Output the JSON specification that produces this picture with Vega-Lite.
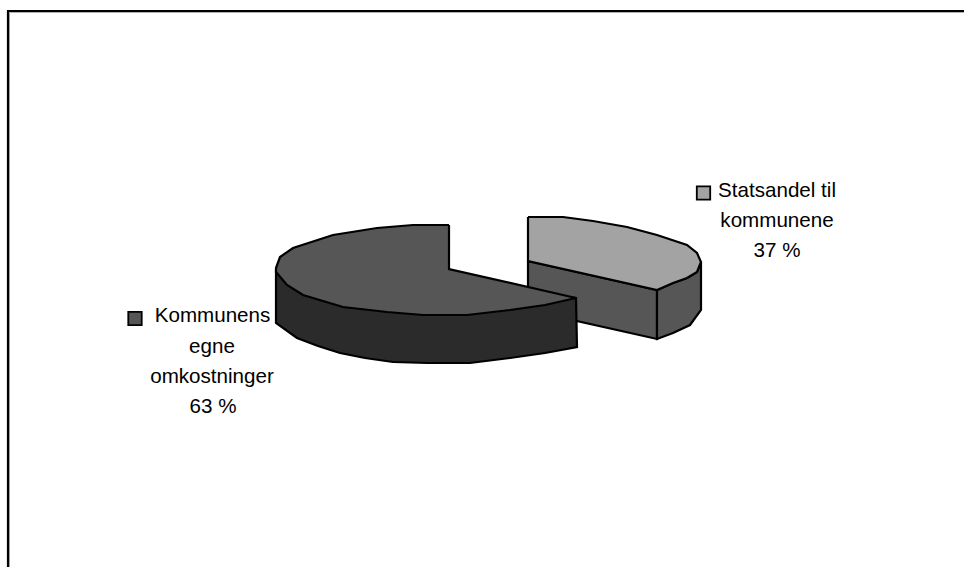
{"$schema":"https://vega.github.io/schema/vega-lite/v6.json","width":964,"height":567,"autosize":"none","padding":0,"background":"white","view":{"stroke":null},
"datasets":{"shapes":[
{"s":"a_rightface","i":0,"px":528,"py":261},{"s":"a_rightface","i":1,"px":657,"py":290},{"s":"a_rightface","i":2,"px":657,"py":339},{"s":"a_rightface","i":3,"px":528,"py":310},{"s":"a_rightface","i":4,"px":528,"py":261},
{"s":"b_rightrim","i":0,"px":657,"py":290},{"s":"b_rightrim","i":1,"px":673,"py":283},{"s":"b_rightrim","i":2,"px":687,"py":278},{"s":"b_rightrim","i":3,"px":697,"py":272},{"s":"b_rightrim","i":4,"px":701,"py":262},{"s":"b_rightrim","i":5,"px":701,"py":310},{"s":"b_rightrim","i":6,"px":690,"py":325},{"s":"b_rightrim","i":7,"px":673,"py":333},{"s":"b_rightrim","i":8,"px":657,"py":339},{"s":"b_rightrim","i":9,"px":657,"py":290},
{"s":"c_righttop","i":0,"px":528,"py":217},{"s":"c_righttop","i":1,"px":563,"py":217},{"s":"c_righttop","i":2,"px":593,"py":221},{"s":"c_righttop","i":3,"px":627,"py":227},{"s":"c_righttop","i":4,"px":657,"py":235},{"s":"c_righttop","i":5,"px":687,"py":245},{"s":"c_righttop","i":6,"px":697,"py":253},{"s":"c_righttop","i":7,"px":701,"py":262},{"s":"c_righttop","i":8,"px":697,"py":272},{"s":"c_righttop","i":9,"px":687,"py":278},{"s":"c_righttop","i":10,"px":673,"py":283},{"s":"c_righttop","i":11,"px":657,"py":290},{"s":"c_righttop","i":12,"px":528,"py":261},{"s":"c_righttop","i":13,"px":528,"py":217},
{"s":"d_leftrim","i":0,"px":276,"py":270},{"s":"d_leftrim","i":1,"px":276,"py":323},{"s":"d_leftrim","i":2,"px":297,"py":338},{"s":"d_leftrim","i":3,"px":318,"py":346},{"s":"d_leftrim","i":4,"px":340,"py":353},{"s":"d_leftrim","i":5,"px":365,"py":358},{"s":"d_leftrim","i":6,"px":393,"py":362},{"s":"d_leftrim","i":7,"px":427,"py":363},{"s":"d_leftrim","i":8,"px":470,"py":363},{"s":"d_leftrim","i":9,"px":510,"py":358},{"s":"d_leftrim","i":10,"px":545,"py":353},{"s":"d_leftrim","i":11,"px":577,"py":347},{"s":"d_leftrim","i":12,"px":576,"py":298},{"s":"d_leftrim","i":13,"px":276,"py":270},
{"s":"e_lefttop","i":0,"px":449,"py":225},{"s":"e_lefttop","i":1,"px":413,"py":225},{"s":"e_lefttop","i":2,"px":377,"py":228},{"s":"e_lefttop","i":3,"px":333,"py":235},{"s":"e_lefttop","i":4,"px":293,"py":248},{"s":"e_lefttop","i":5,"px":280,"py":257},{"s":"e_lefttop","i":6,"px":276,"py":268},{"s":"e_lefttop","i":7,"px":276,"py":272},{"s":"e_lefttop","i":8,"px":287,"py":285},{"s":"e_lefttop","i":9,"px":303,"py":295},{"s":"e_lefttop","i":10,"px":343,"py":307},{"s":"e_lefttop","i":11,"px":387,"py":312},{"s":"e_lefttop","i":12,"px":423,"py":315},{"s":"e_lefttop","i":13,"px":467,"py":315},{"s":"e_lefttop","i":14,"px":510,"py":310},{"s":"e_lefttop","i":15,"px":545,"py":305},{"s":"e_lefttop","i":16,"px":576,"py":298},{"s":"e_lefttop","i":17,"px":449,"py":269},{"s":"e_lefttop","i":18,"px":449,"py":225}
]},
"layer":[
{"data":{"name":"shapes"},"mark":{"type":"line","stroke":"#000","strokeWidth":2.2,"strokeJoin":"miter","interpolate":"linear"},
"encoding":{"x":{"field":"px","type":"quantitative","scale":{"domain":[0,964]},"axis":null},"y":{"field":"py","type":"quantitative","scale":{"domain":[567,0]},"axis":null},"detail":{"field":"s"},"order":{"field":"i","type":"quantitative"},
"fill":{"field":"s","type":"nominal","legend":null,"scale":{"domain":["a_rightface","b_rightrim","c_righttop","d_leftrim","e_lefttop"],"range":["#565656","#565656","#a3a3a3","#2b2b2b","#565656"]}}}},
{"data":{"values":[{"px":9.5,"py":567,"i":0},{"px":9.5,"py":12.5,"i":1},{"px":964,"py":12.5,"i":2}]},"mark":{"type":"line","stroke":"#b0b0b0","strokeWidth":1},
"encoding":{"x":{"field":"px","type":"quantitative","scale":{"domain":[0,964]},"axis":null},"y":{"field":"py","type":"quantitative","scale":{"domain":[567,0]},"axis":null},"order":{"field":"i","type":"quantitative"}}},
{"data":{"values":[{"px":8,"py":567,"i":0},{"px":8,"py":11,"i":1},{"px":964,"py":11,"i":2}]},"mark":{"type":"line","stroke":"#000","strokeWidth":2.2},
"encoding":{"x":{"field":"px","type":"quantitative","scale":{"domain":[0,964]},"axis":null},"y":{"field":"py","type":"quantitative","scale":{"domain":[567,0]},"axis":null},"order":{"field":"i","type":"quantitative"}}},
{"data":{"values":[{"label":"Kommunens egne omkostninger","px":135,"py":318.5,"c":"#565656"},{"label":"Statsandel til kommunene","px":703.5,"py":193,"c":"#a3a3a3"}]},"mark":{"type":"square","size":180,"stroke":"#000","strokeWidth":1.8,"opacity":1},
"encoding":{"x":{"field":"px","type":"quantitative","scale":{"domain":[0,964]},"axis":null},"y":{"field":"py","type":"quantitative","scale":{"domain":[567,0]},"axis":null},"fill":{"field":"c","type":"nominal","scale":null}}},
{"data":{"values":[{"t":"Kommunens","px":212.5,"py":322},{"t":"egne","px":212,"py":353},{"t":"omkostninger","px":212,"py":383},{"t":"63 %","px":213,"py":413},{"t":"Statsandel til","px":777,"py":197},{"t":"kommunene","px":777,"py":227},{"t":"37 %","px":777,"py":257}]},"mark":{"type":"text","font":"Liberation Sans","fontSize":20.6,"align":"center","baseline":"alphabetic","color":"#000"},
"encoding":{"x":{"field":"px","type":"quantitative","scale":{"domain":[0,964]},"axis":null},"y":{"field":"py","type":"quantitative","scale":{"domain":[567,0]},"axis":null},"text":{"field":"t","type":"nominal"}}}
]}
